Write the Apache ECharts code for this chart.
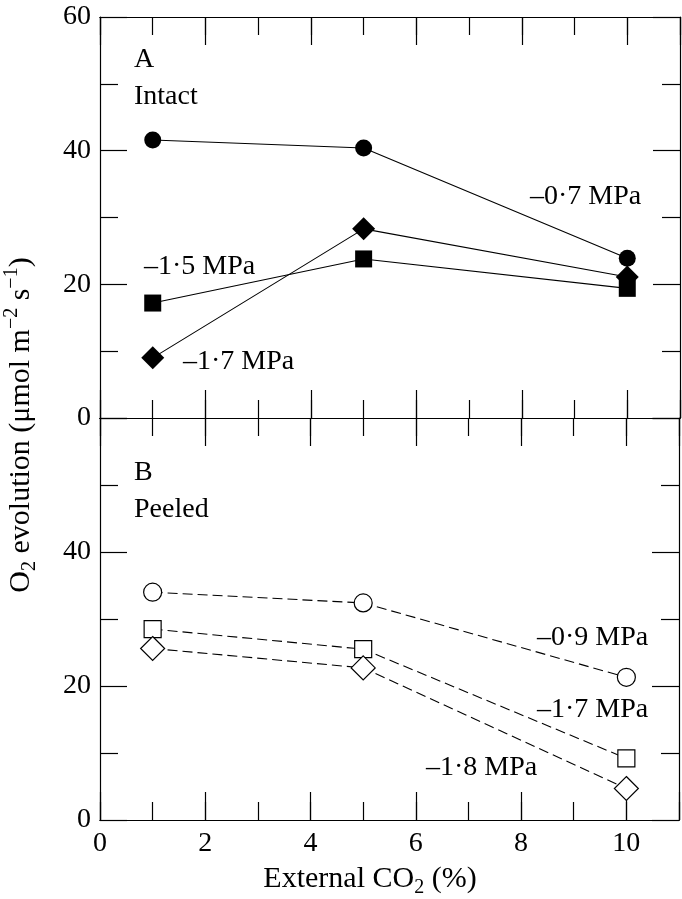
<!DOCTYPE html>
<html>
<head>
<meta charset="utf-8">
<script src="https://cdn.jsdelivr.net/npm/echarts@6.0.0/dist/echarts.min.js"></script>
<style>
  html, body { margin: 0; padding: 0; background: #fff; }
  #chart { width: 682px; height: 899px; }
</style>
</head>
<body>
<div id="chart"></div>
<script>
// external CO2 (%)
const co2 = [1, 5, 10];

// A: intact leaves (filled symbols, solid lines)
const intact07 = [41.6, 40.4, 23.9]; // -0.7 MPa, circles
const intact15 = [17.2, 23.8, 19.4]; // -1.5 MPa, squares
const intact17 = [9.0, 28.3, 21.1];  // -1.7 MPa, diamonds

// B: peeled leaves (open symbols, dashed lines)
const peeled09 = [34.0, 32.4, 21.3]; // -0.9 MPa, circles
const peeled17 = [28.5, 25.5, 9.2];  // -1.7 MPa, squares
const peeled18 = [25.6, 22.7, 4.7];  // -1.8 MPa, diamonds

const yTicks = [0, 20, 40, 60];
const xTicks = [0, 2, 4, 6, 8, 10];

const FONT = "Liberation Serif";
const INK = "#000";

const chart = echarts.init(document.getElementById("chart"), null, { renderer: "canvas" });

function xAxis(gridIndex, position, interval, len, withLabels) {
  return {
    type: "value",
    gridIndex,
    position,
    min: 0,
    max: 11,
    interval,
    splitLine: { show: false },
    axisLine: { show: true, onZero: false, lineStyle: { color: INK, width: 1.2 } },
    axisTick: { show: true, inside: true, length: len, lineStyle: { color: INK, width: 1.2 } },
    axisLabel: withLabels
      ? {
          show: true,
          margin: 10,
          color: INK,
          fontFamily: FONT,
          fontSize: 28,
          formatter: (v) => (xTicks.includes(v) ? String(v) : "")
        }
      : { show: false }
  };
}

function yAxis(gridIndex, position, withLabels) {
  return {
    type: "value",
    gridIndex,
    position,
    min: 0,
    max: 60,
    interval: 20,
    splitLine: { show: false },
    axisLine: { show: true, onZero: false, lineStyle: { color: INK, width: 1.2 } },
    axisTick: { show: true, inside: true, length: 27, lineStyle: { color: INK, width: 1.2 } },
    minorTick: { show: true, splitNumber: 2, length: 18, lineStyle: { color: INK, width: 1.2 } },
    axisLabel: withLabels
      ? {
          show: true,
          margin: 9,
          color: INK,
          fontFamily: FONT,
          fontSize: 28,
          formatter: (v) => (withLabels.includes(v) ? String(v) : "")
        }
      : { show: false }
  };
}

function pairs(ys) {
  return co2.map((x, i) => [x, ys[i]]);
}

function solid(ys, symbol, size) {
  return {
    type: "line",
    xAxisIndex: 0,
    yAxisIndex: 0,
    data: pairs(ys),
    symbol,
    symbolSize: size,
    silent: true,
    lineStyle: { color: INK, width: 1.1 },
    itemStyle: { color: INK },
    z: 3
  };
}

function dashed(ys, symbol, size) {
  return {
    type: "line",
    xAxisIndex: 4,
    yAxisIndex: 2,
    data: pairs(ys),
    symbol,
    symbolSize: size,
    silent: true,
    lineStyle: { color: INK, width: 1.1, type: [10, 5] },
    itemStyle: { color: "#fff", borderColor: INK, borderWidth: 1.2 },
    z: 3
  };
}

function note(text, x, y) {
  return {
    type: "text",
    x,
    y,
    silent: true,
    style: { text, fill: INK, font: `28px "${FONT}"`, align: "left", verticalAlign: "middle" }
  };
}

const richBase = { fontFamily: FONT, fontSize: 30, lineHeight: 38, verticalAlign: "middle", fill: INK };
const richSub = { fontFamily: FONT, fontSize: 20, lineHeight: 38, verticalAlign: "bottom", fill: INK };
const richSup = { fontFamily: FONT, fontSize: 20, lineHeight: 38, verticalAlign: "top", fill: INK };

chart.setOption({
  animation: false,
  backgroundColor: "#fff",
  grid: [
    { left: 100, top: 17, width: 580, height: 401 },
    { left: 100, top: 418, width: 580, height: 402 }
  ],
  xAxis: [
    xAxis(0, "bottom", 1, 18, false),
    xAxis(0, "bottom", 2, 28, false),
    xAxis(0, "top", 1, 18, false),
    xAxis(0, "top", 2, 28, false),
    xAxis(1, "bottom", 1, 18, false),
    xAxis(1, "bottom", 2, 28, true),
    xAxis(1, "top", 1, 18, false),
    xAxis(1, "top", 2, 28, false)
  ],
  yAxis: [
    yAxis(0, "left", yTicks),
    yAxis(0, "right", null),
    yAxis(1, "left", yTicks.slice(0, 3)),
    yAxis(1, "right", null)
  ],
  series: [
    solid(intact07, "circle", 17),
    solid(intact15, "rect", 17),
    solid(intact17, "diamond", 23),
    dashed(peeled09, "circle", 18),
    dashed(peeled17, "rect", 17),
    dashed(peeled18, "diamond", 24)
  ],
  graphic: [
    note("A", 134, 60),
    note("Intact", 134, 97),
    note("\u20130\u00b77 MPa", 530, 197),
    note("\u20131\u00b75 MPa", 144, 267),
    note("\u20131\u00b77 MPa", 183, 362),
    note("B", 134, 473),
    note("Peeled", 134, 510),
    note("\u20130\u00b79 MPa", 537, 638),
    note("\u20131\u00b77 MPa", 537, 710),
    note("\u20131\u00b78 MPa", 426, 768),
    {
      type: "text",
      x: 21,
      y: 425,
      rotation: Math.PI / 2,
      silent: true,
      style: {
        text: "{n|O}{sub|2}{n| evolution (\u03bcmol m}{sup|\u22122}{n| s}{sup|\u22121}{n|)}",
        align: "center",
        verticalAlign: "middle",
        rich: { n: richBase, sub: richSub, sup: richSup }
      }
    },
    {
      type: "text",
      x: 370,
      y: 879,
      silent: true,
      style: {
        text: "{n|External CO}{sub|2}{n| (%)}",
        align: "center",
        verticalAlign: "middle",
        rich: { n: richBase, sub: richSub, sup: richSup }
      }
    }
  ]
});
</script>
</body>
</html>
